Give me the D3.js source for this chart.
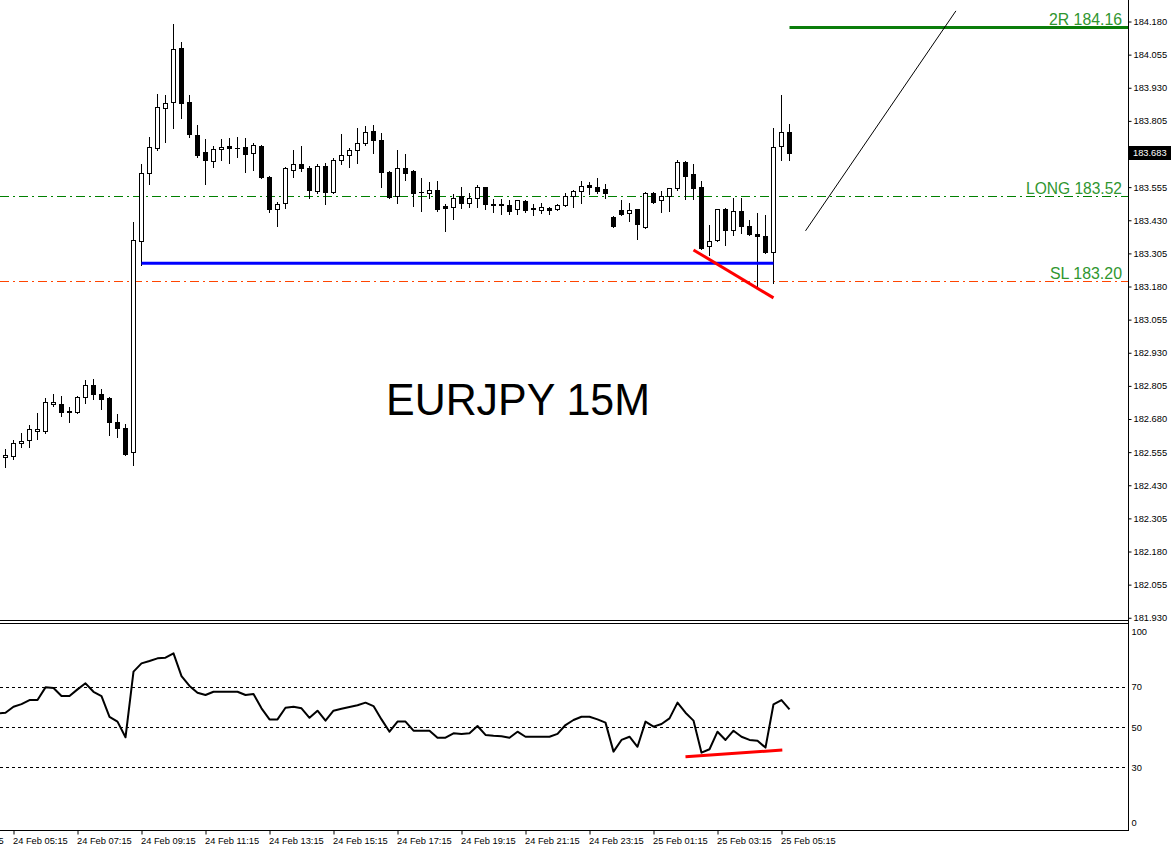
<!DOCTYPE html>
<html><head><meta charset="utf-8">
<script src="https://cdn.jsdelivr.net/npm/d3@7"></script>
<style>html,body{margin:0;padding:0;background:#fff;}svg{display:block;}</style>
</head><body><svg id="c" width="1171" height="850"></svg>
<script>
// ---- data (bar index 0 = 24 Feb 05:00, 15-minute bars) ----
const openP = [182.535,182.539,182.589,182.600,182.634,182.634,182.736,182.736,182.710,182.706,182.763,182.808,182.774,182.759,182.668,182.645,182.554,183.350,183.608,183.703,183.854,183.877,184.081,183.877,183.752,183.688,183.653,183.699,183.710,183.703,183.707,183.684,183.710,183.593,183.472,183.494,183.619,183.642,183.627,183.540,183.635,183.536,183.657,183.676,183.695,183.722,183.767,183.733,183.612,183.521,183.627,183.616,183.536,183.532,183.544,183.483,183.479,183.521,183.494,183.513,183.555,183.491,183.491,183.487,183.472,183.502,183.475,183.468,183.475,183.472,183.487,183.521,183.540,183.563,183.555,183.547,183.441,183.468,183.457,183.472,183.403,183.532,183.506,183.521,183.551,183.650,183.604,183.555,183.331,183.354,183.472,183.392,183.464,183.407,183.377,183.369,183.309,183.710,183.763];
const highP = [182.566,182.600,182.626,182.657,182.702,182.759,182.774,182.766,182.725,182.766,182.827,182.831,182.793,182.762,182.698,182.660,183.425,183.642,183.744,183.907,183.903,184.172,184.104,183.903,183.790,183.737,183.710,183.737,183.741,183.744,183.741,183.722,183.714,183.597,183.498,183.631,183.695,183.710,183.635,183.642,183.646,183.665,183.756,183.703,183.778,183.786,183.790,183.760,183.614,183.695,183.680,183.618,183.589,183.574,183.578,183.491,183.528,183.555,183.532,183.563,183.557,183.510,183.510,183.506,183.508,183.506,183.491,183.494,183.479,183.491,183.532,183.544,183.578,183.574,183.589,183.566,183.445,183.506,183.494,183.474,183.535,183.536,183.540,183.553,183.657,183.652,183.642,183.578,183.411,183.474,183.475,183.513,183.513,183.430,183.457,183.449,183.778,183.903,183.794];
const lowP = [182.498,182.528,182.573,182.573,182.604,182.626,182.729,182.691,182.668,182.702,182.740,182.755,182.717,182.619,182.611,182.543,182.505,183.263,183.566,183.695,183.725,183.778,183.816,183.744,183.669,183.566,183.631,183.657,183.646,183.669,183.612,183.619,183.589,183.460,183.407,183.475,183.593,183.616,183.513,183.532,183.491,183.532,183.642,183.631,183.646,183.714,183.684,183.555,183.513,183.494,183.582,183.483,183.464,183.513,183.464,183.388,183.434,183.475,183.479,183.479,183.472,183.460,183.453,183.453,183.453,183.460,183.449,183.457,183.453,183.468,183.483,183.479,183.494,183.528,183.532,183.513,183.403,183.449,183.426,183.358,183.400,183.494,183.460,183.464,183.544,183.510,183.510,183.322,183.297,183.350,183.335,183.373,183.381,183.375,183.180,183.305,183.195,183.657,183.657];
const closeP = [182.543,182.589,182.596,182.642,182.642,182.744,182.744,182.706,182.706,182.763,182.808,182.774,182.755,182.668,182.645,182.547,183.357,183.608,183.707,183.858,183.873,184.078,183.873,183.756,183.676,183.657,183.699,183.707,183.703,183.703,183.680,183.714,183.593,183.472,183.491,183.627,183.642,183.627,183.544,183.635,183.536,183.657,183.676,183.695,183.722,183.763,183.733,183.612,183.517,183.627,183.608,183.532,183.535,183.544,183.472,183.475,183.513,183.494,183.513,183.555,183.491,183.487,183.487,183.464,183.506,183.468,183.472,183.479,183.468,183.487,183.521,183.540,183.559,183.555,183.540,183.532,183.407,183.453,183.468,183.415,183.532,183.498,183.521,183.551,183.650,183.597,183.551,183.324,183.350,183.472,183.392,183.464,183.407,183.377,183.369,183.312,183.707,183.763,183.683];
// RSI, first value belongs to the bar just before index 0 (partly off-screen)
const rsiVals = [56.8,57.1,60.1,61.4,63.4,63.4,69.7,69.4,65.4,65.4,68.7,71.7,67.5,65.4,55.1,52.7,44.9,77.5,81.6,82.8,84.1,84.4,86.6,75.3,70.4,67.0,65.9,67.5,67.5,67.5,67.5,65.9,66.4,59.3,53.8,53.8,59.6,60.1,59.3,54.6,58.1,53.2,58.1,59.1,60.0,60.8,62.1,60.4,53.8,47.7,52.7,52.7,48.2,48.2,48.2,44.7,44.7,46.9,46.6,46.9,50.5,46.1,45.7,45.4,44.7,47.7,45.2,45.2,45.2,45.2,46.6,51.0,53.5,55.1,55.1,53.8,52.2,37.8,43.6,45.2,40.2,52.7,50.2,51.5,54.3,62.1,57.1,53.2,37.3,39.0,47.7,43.6,48.2,45.2,43.6,43.2,39.8,61.3,63.4,58.8];

const priceTicks = [184.180,184.055,183.930,183.805,183.555,183.430,183.305,183.180,183.055,182.930,182.805,182.680,182.555,182.430,182.305,182.180,182.055,181.930];
const currentPrice = 183.683;
const rsiTicks = [100,70,50,30,0];
const rsiLevels = [70,50,30];
const timeTickBars = [-7,1,9,17,25,33,41,49,57,65,73,81,89,97];
const timeLabels = ["24 Feb 03:15","24 Feb 05:15","24 Feb 07:15","24 Feb 09:15","24 Feb 11:15","24 Feb 13:15","24 Feb 15:15","24 Feb 17:15","24 Feb 19:15","24 Feb 21:15","24 Feb 23:15","25 Feb 01:15","25 Feb 03:15","25 Feb 05:15"];

const levelNames = ["2R 184.16","LONG 183.52","SL 183.20"];
const levelPrices = [184.16,183.52,183.20];
const supportLine = [[17,183.268],[96,183.268]];
const divergencePriceLine = [[86,183.318],[96,183.137]];
const projectionLine = [[100,183.390],[118.8,184.22]];
const divergenceRsiLine = [[85,35.3],[97.1,38.6]];
const title = "EURJPY 15M";

// ---- scales ----
const svg = d3.select("#c");
const AX = 1128.5;
const x = d3.scaleLinear().domain([0,98]).range([5.5,789.5]);
const y = d3.scaleLinear().domain([181.93,184.18]).range([617.75,21.5]);
const yr = d3.scaleLinear().domain([0,100]).range([827.8,626.3]);
const FONT = "'Liberation Sans', Arial, sans-serif";

svg.append("rect").attr("width",1171).attr("height",850).attr("fill","#fff");
svg.append("defs").append("clipPath").attr("id","mainclip").append("rect").attr("x",0).attr("y",0).attr("width",1128).attr("height",620);
svg.select("defs").append("clipPath").attr("id","rsiclip").append("rect").attr("x",0).attr("y",624).attr("width",1128).attr("height",206);
const main = svg.append("g").attr("clip-path","url(#mainclip)");

// level lines
const dashCol = ["#0b7d0b","#008000","#ff4500"];
levelPrices.forEach((p,k)=>{
  const yy = Math.round(y(p))+0.5;
  if(k===0){
    main.append("line").attr("x1",x(98)).attr("x2",1128).attr("y1",yy).attr("y2",yy).attr("stroke",dashCol[k]).attr("stroke-width",3);
  } else {
    main.append("line").attr("x1",0).attr("x2",1128).attr("y1",yy).attr("y2",yy).attr("stroke",dashCol[k]).attr("stroke-width",1).attr("stroke-dasharray","9,4,2,4");
  }
});

// candles
const n = openP.length;
const candles = main.append("g");
for(let i=0;i<n;i++){
  const cx = x(i);
  candles.append("line").attr("x1",cx).attr("x2",cx)
    .attr("y1",Math.round(y(highP[i]))).attr("y2",Math.round(y(lowP[i]))+1)
    .attr("stroke","#000").attr("stroke-width",1);
  const up = closeP[i]>=openP[i];
  const yt = Math.round(y(Math.max(openP[i],closeP[i])))+0.5;
  const yb = Math.round(y(Math.min(openP[i],closeP[i])))+0.5;
  if(yb-yt<1){
    candles.append("line").attr("x1",cx-2.5).attr("x2",cx+2.5).attr("y1",yt).attr("y2",yt).attr("stroke","#000");
  } else {
    candles.append("rect").attr("x",cx-2).attr("y",yt).attr("width",4).attr("height",yb-yt)
      .attr("fill",up?"#fff":"#000").attr("stroke","#000").attr("stroke-width",1);
  }
}

// drawn lines
const lp = d3.line().x(d=>x(d[0])).y(d=>y(d[1]));
main.append("path").attr("d",lp(supportLine)).attr("stroke","#0000ff").attr("stroke-width",3).attr("fill","none");
main.append("path").attr("d",lp(divergencePriceLine)).attr("stroke","#ff0000").attr("stroke-width",3).attr("fill","none");
main.append("path").attr("d",lp(projectionLine)).attr("stroke","#000").attr("stroke-width",1).attr("fill","none");

// level labels
const labW = [73,96,72];
levelPrices.forEach((p,k)=>{
  main.append("text").attr("x",1122).attr("y",Math.round(y(p))-2).attr("text-anchor","end")
    .attr("font-family",FONT).attr("font-size",17).attr("fill","#2f962f")
    .attr("textLength",labW[k]).attr("lengthAdjust","spacingAndGlyphs").text(levelNames[k]);
});

// title
main.append("text").attr("x",386).attr("y",415).attr("font-family",FONT).attr("font-size",44)
  .attr("fill","#000").attr("textLength",264).attr("lengthAdjust","spacingAndGlyphs").text(title);

// price axis
const pa = svg.append("g").attr("transform",`translate(${AX},0)`)
  .call(d3.axisRight(y).tickValues(priceTicks).tickSize(3).tickPadding(2).tickFormat(d3.format(".3f")));
pa.select(".domain").remove();
pa.selectAll("text").attr("font-family",FONT).attr("font-size",9.3).attr("fill","#000");
pa.selectAll("line").attr("stroke","#000");
// current price box
const cy = Math.round(y(currentPrice));
svg.append("rect").attr("x",1129).attr("y",cy-7).attr("width",42).attr("height",14).attr("fill","#000");
svg.append("text").attr("x",1133).attr("y",cy+3.3).attr("font-family",FONT).attr("font-size",9.3).attr("fill","#fff").text(d3.format(".3f")(currentPrice));

// frame lines
svg.append("line").attr("x1",AX).attr("x2",AX).attr("y1",0).attr("y2",831).attr("stroke","#000");
svg.append("line").attr("x1",0).attr("x2",AX).attr("y1",620.5).attr("y2",620.5).attr("stroke","#000");
svg.append("line").attr("x1",0).attr("x2",AX).attr("y1",623.5).attr("y2",623.5).attr("stroke","#000");

// RSI panel
const rg = svg.append("g").attr("clip-path","url(#rsiclip)");
rsiLevels.forEach(v=>{
  const yy = Math.round(yr(v))+0.5;
  rg.append("line").attr("x1",0).attr("x2",1125).attr("y1",yy).attr("y2",yy).attr("stroke","#000").attr("stroke-width",1).attr("stroke-dasharray","3,3");
});
rg.append("path").datum(rsiVals).attr("d",d3.line().x((d,i)=>x(i-1)).y(d=>yr(d)))
  .attr("fill","none").attr("stroke","#000").attr("stroke-width",2).attr("stroke-linejoin","round");
rg.append("path").attr("d",d3.line().x(d=>x(d[0])).y(d=>yr(d[1]))(divergenceRsiLine))
  .attr("stroke","#ff0000").attr("stroke-width",3).attr("fill","none");

const ra = svg.append("g").attr("transform",`translate(${AX},0)`)
  .call(d3.axisRight(yr).tickValues(rsiTicks).tickSize(0).tickPadding(3).tickFormat(d3.format("d")));
ra.select(".domain").remove();
ra.selectAll("text").attr("font-family",FONT).attr("font-size",9.3).attr("fill","#000")
  .attr("transform",d=> d===100?"translate(0,5)":(d===0?"translate(0,-5)":null));

// time axis
const ta = svg.append("g").attr("transform","translate(0,830.5)")
  .call(d3.axisBottom(x).tickValues(timeTickBars).tickSize(4).tickPadding(3).tickFormat((d,i)=>timeLabels[i]));
ta.select(".domain").attr("d","M0,0H"+AX).attr("stroke","#000");
ta.selectAll("line").attr("stroke","#000");
ta.selectAll("text").attr("font-family",FONT).attr("font-size",9.3).attr("fill","#000")
  .attr("text-anchor","start").attr("x",-1);
</script></body></html>
